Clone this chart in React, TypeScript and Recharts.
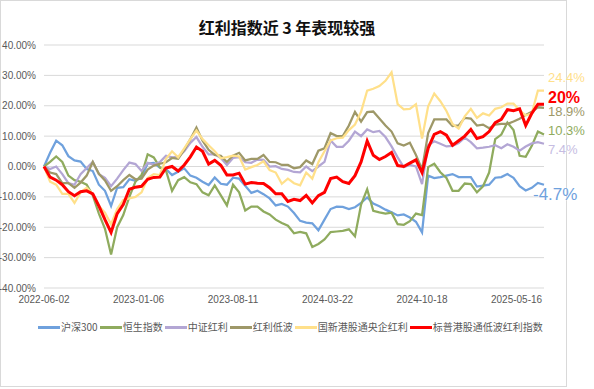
import React from 'react';
import { LineChart, Line, XAxis, YAxis, CartesianGrid } from 'recharts';

const tickDates = ['2022-06-02', '2023-01-06', '2023-08-11', '2024-03-22', '2024-10-18', '2025-05-16'];
const tickWeeks = [0, 31, 62, 93, 124, 155];
const yTicks = [-40, -30, -20, -10, 0, 10, 20, 30, 40];

const seriesNames = ['沪深300', '恒生指数', '中证红利', '红利低波', '国新港股通央企红利', '标普港股通低波红利指数'];
const seriesColors = ['#6FA1DD', '#8FAB5E', '#B3A6D4', '#9E9868', '#FFE08A', '#FF0000'];
const endLabels = ['-4.7%', '10.3%', '7.4%', '18.9%', '24.4%', '20%'];

// values in %, sampled every 2 weeks
const hs300 = [
  0, 4.5, 8.5, 7, 3.4, 2, 1.6, -0.8, -1.5, -6,
  -8, -13, -7, -6.8, -4.2, -4.7, -3.5, 1, 1.2, -0.4,
  -0.8, -2.8, -1.7, -0.6, -3, -3.7, -5, -6.1, -3.6, -5.7,
  -6, -3.7, -4, -6.3, -8.7, -8, -9.1, -10.5, -12.8, -12.3,
  -13.2, -15.3, -17.9, -18.5, -18.7, -21, -17.5, -14, -13.2, -13.3,
  -14, -13.4, -12, -10.2, -12.2, -13.1, -14.2, -15.1, -16.1, -15.8,
  -16.8, -18.2, -21.7, -3, -3.8, -3.5, -3, -2.5, -3.5, -3.5,
  -3.5, -6.6, -6.3, -6, -3.7, -3.5, -2.5, -3.7, -6.5, -7.9,
  -7, -5.4, -6,
];
const hsi = [
  0, 1.5, 3.3, 1.5, -3, -4.5, -5, -6, -9.5, -15.5,
  -20.5, -29, -20, -16, -10, -5, -2.8, 4, 3, -0.3,
  -1.3, -8, -4.5, -3.5, -5.2, -5.8, -8.5, -9.5, -6.2, -9.5,
  -12.8, -6, -8.5, -14.5, -13.2, -13.2, -14.8, -15.8, -17.5, -18.6,
  -19.5, -22, -21.5, -22, -26.5, -25.5, -24, -21.6, -21.4, -21.2,
  -20.7, -23, -12.5, -7.5, -14.6, -15.1, -15.5, -15.2, -19, -19.2,
  -18, -15.5, -16, -0.2, 0.9, -1.9, -3.8, -8, -8, -5.6,
  -5.8, -8.5, -6.5, -2, 9, 10.5, 14.5, 12, 3.5, 3.2,
  6.8, 11.5, 10.5,
];
const zzhl = [
  0, -0.8, 0, -2.5, -5.5, -6, -2.5, -0.5, 1.5, -2.5,
  -3.7, -6.5, -4, -1.2, 1.3, 0.8, -1.5, 1.2, 0.6, 1.5,
  3.5, 3, 3.2, 5, 7.8, 9.7, 6.5, 4, 4, 2.8,
  0.5, 2.8, 3.1, 1.4, 1.2, 2.3, 2.2, 0, 0.1, -0.8,
  -1.1, -1.8, -1.9, 0, -1.5, 0, 1.5, 8.6, 6.5, 6.5,
  8.5, 11.5, 10, 12.2, 11.3, 11.7, 9.7, 6.6, 3, -0.2,
  0.5, 0, -5.8, 7, 8.3, 7.5, 6.6, 6.8, 7.7, 9.5,
  8, 6, 6.2, 6.5, 7, 6, 7.3, 6.5, 5.2, 6.6,
  7.6, 8, 7.5,
];
const hldb = [
  0, -2, -2.5, -5.5, -5.5, -7, -5.3, -3, 1.5, -2.4,
  -4.6, -8, -6.5, -4.5, -2.8, -4.2, -4, -1, 0.3, 0.9,
  1.4, 2.8, 2.5, 5.5, 9, 12.8, 8.5, 5.5, 3.8, 3.5,
  1.5, 3.6, 4.5, 2, 2.5, 2.5, 3.8, 1.5, 1.4, 0.5,
  0.5, -0.6, -0.2, 2, 0.8, 5.2, 6, 11, 10, 10,
  13.5, 18, 14.8, 17.9, 18.1, 15.8, 13.5, 11.5, 7.6, 6.9,
  7.8, 3.8, -1, 11, 15.5, 15.5, 15.5, 13.3, 13.5, 16,
  15.8, 13.5, 13.8, 12.6, 13.8, 14, 14, 14.8, 15.7, 17,
  18, 19.5, 19.3,
];
const gx = [
  0, -5, -6, -9, -9, -12, -8.5, -7, -9, -13,
  -15.2, -19, -14, -11, -10.5, -10, -8.5, -3.8, -2.5, -2.8,
  2.5, 5, 3, 6, 9, 11.9, 9, 7, 5, 2.7,
  3.1, 3.6, 3.3, -1, -0.2, 0.5, 1.7, -1.2, -2, -5.7,
  -4, -5.5, -6.2, -2, -4, 1.4, 5, 8.6, 9.3, 9.5,
  12, 13.8, 18, 25, 25.6, 26.5, 28.2, 31, 20.5, 18.8,
  19, 20.5, 9.2, 19.8, 24, 21.5, 18.3, 14, 12.5, 16.5,
  19, 16, 17.5, 16.8, 19, 19.5, 20.7, 20.7, 18.5, 16.8,
  17.5, 25, 25,
];
const sp = [
  0, -3.5, -4.5, -6, -8.3, -9.6, -8.3, -8, -9, -13,
  -17.5, -21.7, -15.5, -12.5, -7.5, -6.8, -6.5, -4.2, -3.6, -3.5,
  -0.5, 0, -1.5, 0.5, 3.2, 6.4, 5, 0.8, 2, 0.4,
  -2.8, -2.8, -2.2, -5.8, -5.3, -5.5, -5.6, -7, -9, -9,
  -11.5, -10.8, -11.2, -9.5, -12, -9.6, -8.5, -4, -3.5, -5,
  -5.6, -3, 1.5, 8.4, 3.7, 2.3, 3.3, 4.6, 0.3, 0,
  1.1, 2.2, -2, 6, 10.6, 11.5, 10.3, 7, 8.5, 10,
  12.2, 9.2, 9.8, 11.5, 14.4, 15.5, 18.7, 18.4, 19, 13.5,
  17.5, 20.5, 20.5,
];

const seriesValues = [hs300, hsi, zzhl, hldb, gx, sp];
const keys = ['hs300', 'hsi', 'zzhl', 'hldb', 'gx', 'sp'];

const data = hs300.map((_, i) => {
  const row: Record<string, number> = { w: i * 2 };
  keys.forEach((k, j) => {
    row[k] = seriesValues[j][i];
  });
  return row;
});

const labelStyle = [
  { dx: -11, dy: 9.5, size: 17, weight: 400, color: '#6FA1DD' },
  { dx: 4, dy: -4.5, size: 13, weight: 400, color: '#8FAB5E' },
  { dx: 4, dy: 5.5, size: 13, weight: 400, color: '#C6BDE2' },
  { dx: 4, dy: 4, size: 13, weight: 400, color: '#9E9868' },
  { dx: 4, dy: -13.5, size: 13, weight: 400, color: '#FFE08A' },
  { dx: 4, dy: -7, size: 16, weight: 700, color: '#FF0000' },
];

const makeEndLabel = (j: number) => (props: any) => {
  const { x, y, index } = props;
  if (index !== data.length - 1) return null;
  const s = labelStyle[j];
  return (
    <text
      key={`end-${j}`}
      x={x + s.dx}
      y={y + s.dy}
      fill={s.color}
      fontSize={s.size}
      fontWeight={s.weight}
      fontFamily="'Liberation Sans', Arial, sans-serif"
      dominantBaseline="central"
      textAnchor="start"
      stroke="#fff"
      strokeWidth={0.6}
      paintOrder="stroke"
    >
      {endLabels[j]}
    </text>
  );
};

const fmtY = (v: number) => `${v.toFixed(2)}%`;
const fmtX = (v: number) => {
  const i = tickWeeks.indexOf(v);
  return i >= 0 ? tickDates[i] : '';
};

export default function App() {
  return (
    <div
      style={{
        position: 'absolute',
        left: 0,
        top: 0,
        width: 594,
        height: 389,
        background: '#fff',
        fontFamily: "'Noto Sans CJK SC', sans-serif",
      }}
    >
      <div
        style={{
          position: 'absolute',
          left: 0,
          top: 0,
          width: 567,
          height: 387,
          border: '1px solid #D9D9D9',
          boxSizing: 'border-box',
        }}
      />
      <div
        style={{
          position: 'absolute',
          left: 0,
          top: 15,
          width: 574,
          textAlign: 'center',
          fontSize: 16,
          fontWeight: 700,
          color: '#111',
          fontFamily: "'Noto Sans CJK SC', sans-serif",
          lineHeight: '24px',
        }}
      >
        红利指数近 3 年表现较强
      </div>
      <div style={{ position: 'absolute', left: 0, top: 0 }}>
        <LineChart
          width={594}
          height={389}
          data={data}
          margin={{ top: 45, right: 50, left: 0, bottom: 81 }}
        >
          <CartesianGrid vertical={false} stroke="#D9D9D9" strokeWidth={1} />
          <XAxis
            dataKey="w"
            type="number"
            domain={[0, 164]}
            ticks={tickWeeks}
            interval={0}
            tickFormatter={fmtX}
            axisLine={false}
            tickLine={false}
            height={20}
            tick={{ fontSize: 10, fill: '#595959', fontFamily: "'Liberation Sans', Arial, sans-serif" }}
          />
          <YAxis
            type="number"
            domain={[-40, 40]}
            ticks={yTicks}
            interval={0}
            tickFormatter={fmtY}
            axisLine={false}
            tickLine={false}
            width={44}
            tick={{ fontSize: 10, fill: '#595959', fontFamily: "'Liberation Sans', Arial, sans-serif" }}
          />
          {keys.map((k, j) => (
            <Line
              key={k}
              dataKey={k}
              type="linear"
              stroke={seriesColors[j]}
              strokeWidth={j === 5 ? 3 : 2.25}
              dot={false}
              activeDot={false}
              isAnimationActive={false}
              label={makeEndLabel(j)}
            />
          ))}
        </LineChart>
      </div>
      <div
        style={{
          position: 'absolute',
          left: 38,
          top: 320,
          display: 'flex',
          alignItems: 'center',
          fontSize: 10,
          color: '#595959',
          fontFamily: "'Noto Sans CJK SC', sans-serif",
          whiteSpace: 'nowrap',
          lineHeight: '14px',
        }}
      >
        {seriesNames.map((n, j) => (
          <div key={n} style={{ display: 'flex', alignItems: 'center', marginRight: 2 }}>
            <span
              style={{
                display: 'inline-block',
                width: 22,
                height: 3,
                background: seriesColors[j],
                marginRight: 1,
              }}
            />
            <span>{n}</span>
          </div>
        ))}
      </div>
    </div>
  );
}
